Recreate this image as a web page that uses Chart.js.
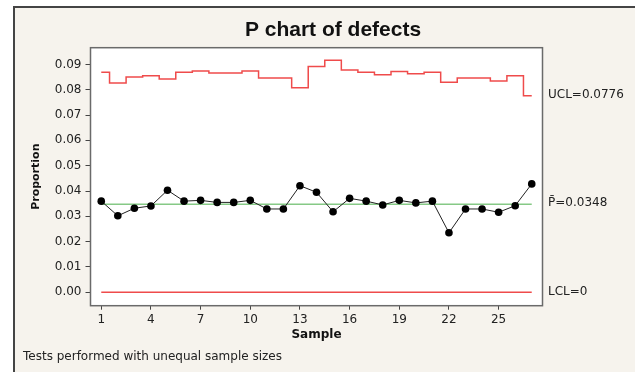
<!DOCTYPE html>
<html>
<head>
<meta charset="utf-8">
<script src="https://cdn.jsdelivr.net/npm/chart.js@4"></script>
<style>
  html, body { margin: 0; padding: 0; background: #ffffff; }
  canvas { display: block; }
</style>
</head>
<body>
<canvas id="chart" width="635" height="372"></canvas>
<script>
// ===== DATA =====
const samples = [1,2,3,4,5,6,7,8,9,10,11,12,13,14,15,16,17,18,19,20,21,22,23,24,25,26,27];
const proportions = [0.0360,0.0302,0.0332,0.0341,0.0403,0.0360,0.0363,0.0355,0.0355,0.0363,
                     0.0329,0.0329,0.0421,0.0395,0.0318,0.0371,0.0360,0.0345,0.0363,0.0353,
                     0.0360,0.0235,0.0329,0.0329,0.0316,0.0342,0.0428];
const ucl = [0.0869,0.0827,0.0850,0.0855,0.0842,0.0869,0.0874,0.0866,0.0866,0.0874,
             0.0846,0.0846,0.0808,0.0892,0.0916,0.0878,0.0869,0.0859,0.0872,0.0863,
             0.0869,0.0830,0.0846,0.0846,0.0834,0.0855,0.0776];
const pbar = 0.0348;
const lcl = 0;
const sampleTicks = [1,4,7,10,13,16,19,22,25];

const FONT = "'DejaVu Sans', Verdana, sans-serif";

// ===== FRAME, TITLE, LIMIT LABELS =====
const decor = {
  id: 'decor',
  beforeDraw(chart) {
    const c = chart.ctx, a = chart.chartArea;
    c.save();
    c.fillStyle = '#f6f3ed';
    c.fillRect(14, 7, chart.width - 14, chart.height - 7);
    c.strokeStyle = '#444';
    c.lineWidth = 2;
    c.beginPath();
    c.moveTo(14, chart.height);
    c.lineTo(14, 7);
    c.lineTo(chart.width, 7);
    c.stroke();
    c.fillStyle = '#ffffff';
    c.fillRect(a.left, a.top, a.right - a.left, a.bottom - a.top);
    c.restore();
  },
  afterDraw(chart) {
    const c = chart.ctx, a = chart.chartArea, y = chart.scales.y;
    c.save();
    c.strokeStyle = '#6a6a6a';
    c.lineWidth = 1.5;
    c.strokeRect(a.left, a.top, a.right - a.left, a.bottom - a.top);

    c.fillStyle = '#111';
    c.font = "bold 21px 'Liberation Sans', Arial, sans-serif";
    c.textAlign = 'center';
    c.textBaseline = 'middle';
    c.fillText('P chart of defects', 333, 30);

    c.font = '12px ' + FONT;
    c.textAlign = 'left';
    c.fillStyle = '#222';
    const lx = a.right + 5.5;
    c.fillText('UCL=' + ucl[ucl.length - 1].toFixed(4), lx, y.getPixelForValue(ucl[ucl.length - 1]) - 1);
    c.fillText('P\u0304=' + pbar.toFixed(4), lx, y.getPixelForValue(pbar) - 1);
    c.fillText('LCL=' + lcl, lx, y.getPixelForValue(lcl));

    c.fillText('Tests performed with unequal sample sizes', 23, 357);
    c.restore();
  }
};

// ===== CHART =====
const ctx = document.getElementById('chart');

new Chart(ctx, {
  type: 'line',
  data: {
    datasets: [
      {
        label: 'Proportion',
        data: samples.map((s, i) => ({ x: s, y: proportions[i] })),
        borderColor: '#222',
        borderWidth: 1,
        pointRadius: 3.8,
        pointBackgroundColor: '#000',
        pointBorderColor: '#000',
        pointBorderWidth: 0
      },
      {
        label: 'UCL',
        data: samples.map((s, i) => ({ x: s, y: ucl[i] })),
        borderColor: '#ef4b4b',
        borderWidth: 1.5,
        stepped: 'middle',
        pointRadius: 0
      },
      {
        label: 'P',
        data: samples.map(s => ({ x: s, y: pbar })),
        borderColor: '#86c986',
        borderWidth: 1.5,
        pointRadius: 0
      },
      {
        label: 'LCL',
        data: samples.map(s => ({ x: s, y: lcl })),
        borderColor: '#ef4b4b',
        borderWidth: 1.5,
        pointRadius: 0
      }
    ]
  },
  options: {
    responsive: false,
    animation: false,
    events: [],
    layout: { padding: { left: 30, right: 92.5, top: 47.7, bottom: 0 } },
    plugins: {
      legend: { display: false },
      tooltip: { enabled: false }
    },
    scales: {
      x: {
        type: 'linear',
        min: 0.35,
        max: 27.65,
        afterBuildTicks: s => { s.ticks = sampleTicks.map(v => ({ value: v })); },
        afterFit: s => { s.height = 66.3; },
        border: { display: false },
        grid: { drawOnChartArea: false, tickLength: 4, tickColor: '#444', lineWidth: 1 },
        ticks: { color: '#222', font: { family: FONT, size: 12 }, padding: 3, maxRotation: 0, autoSkip: false },
        title: {
          display: true,
          text: 'Sample',
          color: '#111',
          font: { family: FONT, size: 12, weight: 'bold' },
          padding: { top: 0, bottom: 30 }
        }
      },
      y: {
        min: -0.0053,
        max: 0.0966,
        afterFit: s => { s.width = 60.5; },
        border: { display: false },
        grid: { drawOnChartArea: false, tickLength: 5, tickColor: '#444', lineWidth: 1 },
        ticks: {
          stepSize: 0.01,
          includeBounds: false,
          color: '#222',
          font: { family: FONT, size: 12 },
          padding: 4,
          callback: v => v.toFixed(2)
        },
        title: {
          display: true,
          text: 'Proportion',
          color: '#111',
          font: { family: FONT, size: 11, weight: 'bold' },
          padding: { top: 0, bottom: 0 }
        }
      }
    }
  },
  plugins: [decor]
});
</script>
</body>
</html>
